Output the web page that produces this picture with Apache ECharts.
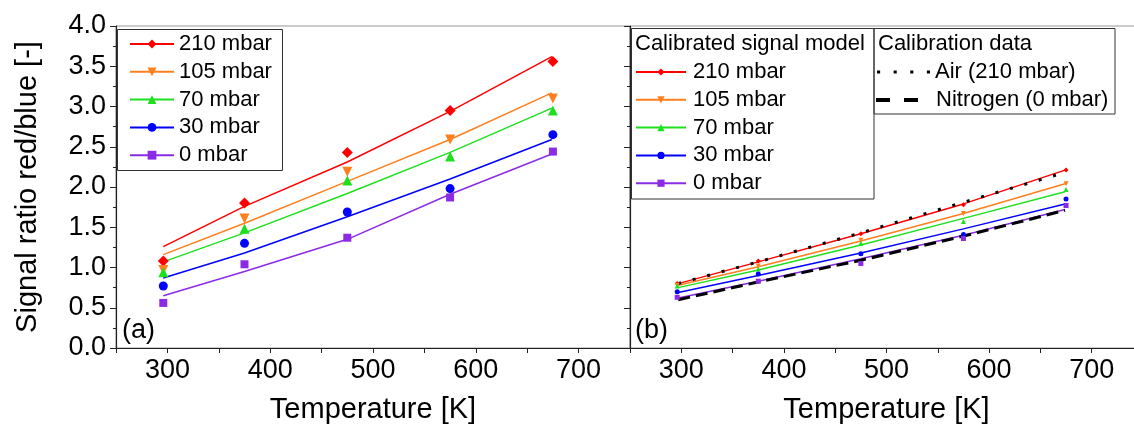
<!DOCTYPE html>
<html><head><meta charset="utf-8">
<script src="https://cdn.jsdelivr.net/npm/echarts@6/dist/echarts.min.js"></script>
<style>html,body{margin:0;padding:0;background:#fff}#c{width:1134px;height:428px}</style>
</head><body><div id="c"></div>
<script>
// ---------- data ----------
const pressures = ['210 mbar', '105 mbar', '70 mbar', '30 mbar', '0 mbar'];
const tempsMeas = [296, 375, 475, 575, 675];
const tempsModelA = [296, 375, 475, 575, 674];
const tempsB = [297, 375, 475, 575, 674];

// panel (a): measured points
const measA210 = [1.08, 1.80, 2.43, 2.95, 3.56];
const measA105 = [0.97, 1.61, 2.19, 2.59, 3.10];
const measA70  = [0.94, 1.48, 2.08, 2.38, 2.95];
const measA30  = [0.77, 1.30, 1.69, 1.98, 2.65];
const measA0   = [0.56, 1.04, 1.37, 1.87, 2.44];
// panel (a): model lines
const modelA210 = [1.26, 1.76, 2.31, 2.94, 3.62];
const modelA105 = [1.16, 1.55, 2.07, 2.59, 3.17];
const modelA70  = [1.07, 1.43, 1.92, 2.43, 2.98];
const modelA30  = [0.87, 1.18, 1.63, 2.10, 2.59];
const modelA0   = [0.65, 0.95, 1.35, 1.91, 2.41];
// panel (b): calibrated signal model lines
const modelB210 = [0.80, 1.07, 1.42, 1.79, 2.21];
const modelB105 = [0.78, 1.01, 1.33, 1.67, 2.04];
const modelB70  = [0.75, 0.97, 1.28, 1.61, 1.94];
const modelB30  = [0.69, 0.90, 1.18, 1.48, 1.79];
const modelB0   = [0.62, 0.83, 1.11, 1.40, 1.72];
// panel (b): model points
const measB210 = [0.80, 1.08, 1.42, 1.78, 2.21];
const measB105 = [0.78, 1.02, 1.34, 1.67, 2.04];
const measB70  = [0.77, 0.98, 1.30, 1.57, 1.97];
const measB30  = [0.70, 0.92, 1.17, 1.41, 1.85];
const measB0   = [0.63, 0.83, 1.05, 1.36, 1.77];
// panel (b): calibration data
const calibAir = [0.80, 1.07, 1.43, 1.81, 2.18];
const calibN2  = [0.60, 0.82, 1.09, 1.39, 1.71];

const xTickLabels = [300, 400, 500, 600, 700];
const yTickLabels = ['0.0','0.5','1.0','1.5','2.0','2.5','3.0','3.5','4.0'];

// ---------- styles ----------
const colors = ['#ff0000', '#ff7f1e', '#1fe01f', '#0000ff', '#8b2be6'];
const symbols = ['diamond', 'triangle', 'triangle', 'circle', 'rect'];
const rotates = [0, 180, 0, 0, 0];
const sizesA = [11, 10, 10, 9, 8];
const FONT = '"Liberation Sans", Arial, sans-serif';

const measA = [measA210, measA105, measA70, measA30, measA0];
const modelA = [modelA210, modelA105, modelA70, modelA30, modelA0];
const modelB = [modelB210, modelB105, modelB70, modelB30, modelB0];
const measB = [measB210, measB105, measB70, measB30, measB0];
const zip = (xs, ys) => xs.map((x, i) => [x, ys[i]]);

const series = [];
pressures.forEach((p, i) => {
  series.push({
    type: 'line', name: p, xAxisIndex: 0, yAxisIndex: 0,
    data: zip(tempsModelA, modelA[i]),
    symbol: symbols[i], symbolRotate: rotates[i], showSymbol: false,
    lineStyle: { color: colors[i], width: 1.5 }, itemStyle: { color: colors[i] }, z: 2
  });
});
pressures.forEach((p, i) => {
  series.push({
    type: 'scatter', name: p, xAxisIndex: 0, yAxisIndex: 0,
    data: zip(tempsMeas, measA[i]), symbol: symbols[i], symbolRotate: rotates[i],
    symbolSize: sizesA[i], itemStyle: { color: colors[i], opacity: 1 }, z: 4
  });
});
pressures.forEach((p, i) => {
  series.push({
    type: 'line', name: p + ' (b)', xAxisIndex: 1, yAxisIndex: 1,
    data: zip(tempsB, modelB[i]),
    symbol: symbols[i], symbolRotate: rotates[i], showSymbol: false,
    lineStyle: { color: colors[i], width: 1.5 }, itemStyle: { color: colors[i] }, z: 2
  });
});
series.push({
  type: 'line', name: 'Air (210 mbar)', xAxisIndex: 1, yAxisIndex: 1,
  data: zip(tempsB, calibAir), symbol: 'none',
  lineStyle: { color: '#000', width: 3, type: [3, 12], cap: 'butt' }, itemStyle: { color: '#000' }, z: 3
});
series.push({
  type: 'line', name: 'Nitrogen (0 mbar)', xAxisIndex: 1, yAxisIndex: 1,
  data: zip(tempsB, calibN2), symbol: 'none',
  lineStyle: { color: '#000', width: 3, type: [12, 6], cap: 'butt' }, itemStyle: { color: '#000' }, z: 3
});
pressures.forEach((p, i) => {
  series.push({
    type: 'scatter', name: p + ' (b)', xAxisIndex: 1, yAxisIndex: 1,
    data: zip(tempsMeas, measB[i]), symbol: symbols[i], symbolRotate: rotates[i],
    symbolSize: 5, itemStyle: { color: colors[i], opacity: 1 }, z: 4
  });
});

function xAxis(gi) {
  return {
    type: 'value', gridIndex: gi, min: 250, max: 750, interval: 50,
    name: 'Temperature [K]', nameLocation: 'middle', nameGap: 47,
    nameTextStyle: { fontSize: 29, color: '#000', fontFamily: FONT },
    axisLine: { onZero: false, lineStyle: { color: '#222', width: 1.2 } },
    axisTick: { show: true, length: 5, lineStyle: { color: '#222' } },
    axisLabel: {
      fontSize: 27, color: '#000', fontFamily: FONT, margin: 9,
      formatter: v => (xTickLabels.indexOf(v) >= 0 ? String(v) : '')
    },
    splitLine: { show: false }
  };
}
function yAxis(gi, labels) {
  return {
    type: 'value', gridIndex: gi, min: 0, max: 4, interval: 0.5,
    name: labels ? 'Signal ratio red/blue [-]' : '', nameLocation: 'middle', nameGap: 74,
    nameTextStyle: { fontSize: 29, color: '#000', fontFamily: FONT },
    axisLine: { show: true, onZero: false, lineStyle: { color: '#222', width: 1.2 } },
    axisTick: { show: true, length: 6, lineStyle: { color: '#222' } },
    minorTick: { show: true, splitNumber: 2, length: 3, lineStyle: { color: '#222' } },
    axisLabel: {
      show: labels, fontSize: 27, color: '#000', fontFamily: FONT, margin: 10,
      formatter: v => yTickLabels[Math.round(v / 0.5)]
    },
    splitLine: { show: false }, minorSplitLine: { show: false }
  };
}

const legendText = { fontSize: 22, color: '#000', fontFamily: FONT };

const option = {
  animation: false,
  backgroundColor: '#fff',
  grid: [
    { left: 116, top: 26, width: 514, height: 322, show: true, borderColor: '#999', borderWidth: 1, outerBoundsMode: 'none', containLabel: false },
    { left: 630, top: 26, width: 513, height: 322, show: true, borderColor: '#999', borderWidth: 1, outerBoundsMode: 'none', containLabel: false }
  ],
  xAxis: [xAxis(0), xAxis(1)],
  yAxis: [yAxis(0, true), yAxis(1, false)],
  legend: [
    {
      data: pressures, orient: 'vertical', left: 129, top: 33, padding: 0,
      itemWidth: 44, itemHeight: 11, itemGap: 5.8,
      textStyle: legendText, selectedMode: false
    },
    {
      data: pressures.map(p => p + ' (b)'), orient: 'vertical', left: 635, top: 61, padding: 0,
      itemWidth: 50, itemHeight: 9, itemGap: 5.8,
      textStyle: Object.assign({}, legendText, { padding: [0, 0, 0, 2] }), selectedMode: false,
      formatter: n => n.replace(' (b)', '')
    },
    {
      data: [{ name: 'Air (210 mbar)', icon: 'path://M0,0h3v3h-3z M16,0h3v3h-3z M32,0h3v3h-3z M48,0h3v3h-3z' }],
      orient: 'vertical', left: 877, top: 61, padding: 0,
      itemWidth: 53, itemHeight: 11, textStyle: legendText, selectedMode: false
    },
    {
      data: [{ name: 'Nitrogen (0 mbar)', icon: 'path://M0,0h14v4h-14z M28,0h14v4h-14z' }],
      orient: 'vertical', left: 876, top: 89, padding: 0,
      itemWidth: 42, itemHeight: 11,
      textStyle: Object.assign({}, legendText, { padding: [0, 0, 0, 13] }), selectedMode: false
    }
  ],
  graphic: [
    { type: 'rect', shape: { x: 117.5, y: 29.5, width: 165, height: 141 }, style: { fill: 'none', stroke: '#333', lineWidth: 1 }, z: 5 },
    { type: 'rect', shape: { x: 631.5, y: 28.5, width: 242.5, height: 170.5 }, style: { fill: 'none', stroke: '#333', lineWidth: 1 }, z: 5 },
    { type: 'rect', shape: { x: 874, y: 28.5, width: 241, height: 85.5 }, style: { fill: 'none', stroke: '#333', lineWidth: 1 }, z: 5 },
    { type: 'text', x: 635, y: 44, style: { text: 'Calibrated signal model', font: '22px ' + FONT, fill: '#000', verticalAlign: 'middle' }, z: 5 },
    { type: 'text', x: 878, y: 44, style: { text: 'Calibration data', font: '22px ' + FONT, fill: '#000', verticalAlign: 'middle' }, z: 5 },
    { type: 'text', x: 122, y: 331, style: { text: '(a)', font: '27px ' + FONT, fill: '#000', verticalAlign: 'middle' }, z: 5 },
    { type: 'text', x: 635, y: 331, style: { text: '(b)', font: '27px ' + FONT, fill: '#000', verticalAlign: 'middle' }, z: 5 }
  ],
  series: series
};

const chart = echarts.init(document.getElementById('c'), null, { renderer: 'canvas' });
chart.setOption(option);
</script>
</body></html>
